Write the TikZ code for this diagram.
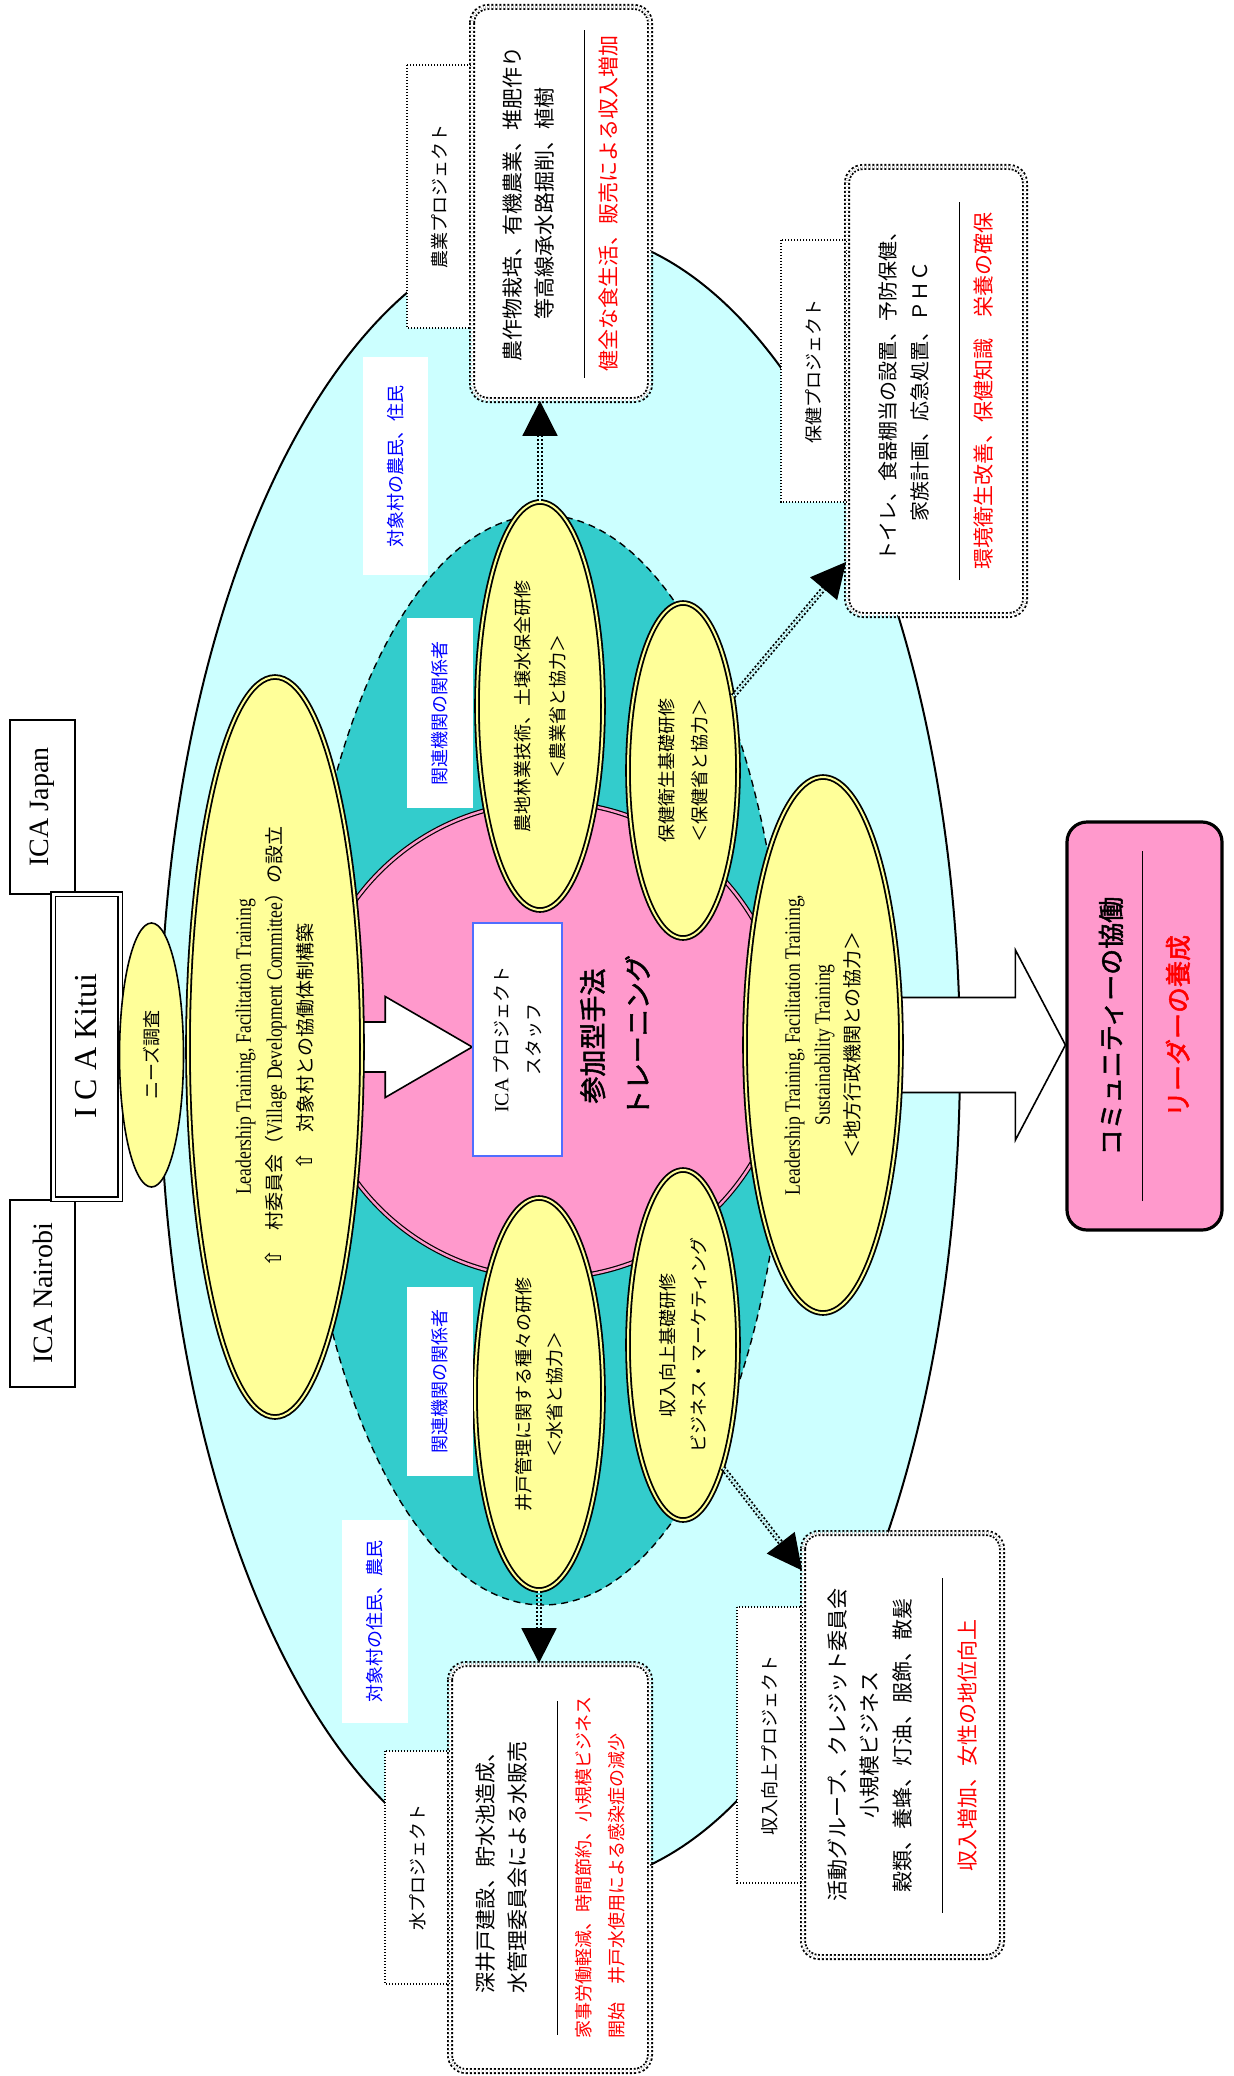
\documentclass[tikz,border=0pt]{standalone}
\usepackage{fontspec}
\setmainfont{Liberation Serif}
\newfontfamily\jp{Noto Sans CJK JP}
\newfontfamily\jpb[FakeBold=2]{Noto Sans CJK JP}
\newfontfamily\cond[FakeStretch=0.8]{Liberation Serif}
\newfontfamily\sym{DejaVu Sans}
\usetikzlibrary{shapes.geometric,arrows.meta,calc}

\definecolor{skyfill}{RGB}{204,255,255}
\definecolor{tealfill}{RGB}{51,204,204}
\definecolor{pinkfill}{RGB}{255,153,204}
\definecolor{yelfill}{RGB}{255,255,153}
\definecolor{staffblue}{RGB}{80,110,255}

\newcommand\latn[1]{{\cond\fontsize{11}{15}\selectfont #1}}
\newcommand\freccia{{\sym\fontsize{11}{15}\selectfont ⇧}}

\pgfdeclarelayer{back}
\pgfdeclarelayer{mid}
\pgfsetlayers{back,mid,main}

\begin{document}
\begin{tikzpicture}[x=0.5pt,y=-0.5pt,
    vtxt/.style={rotate=90, inner sep=0pt, align=center},
    yel/.style={ellipse, draw, line width=0.9pt, double=yelfill, double distance=1pt, fill=yelfill, inner sep=0pt},
    icabox/.style={draw, fill=white, line width=0.7pt},
    bluelab/.style={vtxt, fill=white, text=blue, font=\jp\fontsize{9}{9}\selectfont},
    tagbox/.style={vtxt, draw, fill=white, line width=0.6pt, dash pattern=on 0.6pt off 0.9pt, font=\jp\fontsize{9}{9}\selectfont},
    projbox/.style={vtxt, draw, fill=white, rounded corners=8pt, line width=0.9pt, double=white, double distance=1.2pt, dash pattern=on 1pt off 1pt, font=\jp\fontsize{10.5}{16}\selectfont},
    blockarrow/.style={draw, fill=white, line width=0.8pt, line join=miter},
    link/.style={double=skyfill, double distance=1pt, line width=0.9pt, dash pattern=on 1pt off 1pt, -{Triangle[length=17.5pt,width=17.5pt]}}]

    % Ellissi di sfondo
    \begin{pgfonlayer}{back}
    \fill[white] (0,0) rectangle (1233,2076);
    \node[ellipse, draw, line width=1pt, fill=skyfill, minimum width=400pt, minimum height=828pt, inner sep=0pt] (villagers) at (560,1058) {};
    \node[ellipse, draw, line width=0.7pt, dash pattern=on 3.5pt off 2.5pt, fill=tealfill, minimum width=243pt, minimum height=545pt, inner sep=0pt] (agencies) at (543,1060) {};
    \node[circle, draw, line width=0.6pt, double=pinkfill, double distance=1.2pt, fill=pinkfill, minimum size=238pt, inner sep=0pt] (core) at (548,1040) {};
    \end{pgfonlayer}
    \useasboundingbox (0,0) rectangle (1233,2076);

    % ICA
    \node[icabox, vtxt, minimum width=87pt, minimum height=32.5pt, font=\fontsize{14}{14}\selectfont] (japan) at (42.5,807) {ICA Japan};
    \node[icabox, vtxt, minimum width=93.5pt, minimum height=32.5pt, font=\fontsize{14}{14}\selectfont] (nairobi) at (42.5,1293.5) {ICA Nairobi};
    \node[icabox, vtxt, double, double distance=1.5pt, minimum width=152.5pt, minimum height=33.5pt, font=\fontsize{16}{16}\selectfont] (kitui) at (86.5,1046.5) {I C A Kitui};
    \node[ellipse, draw, line width=0.8pt, fill=yelfill, vtxt, minimum width=132pt, minimum height=32pt, font=\jp\fontsize{9}{9}\selectfont] (needs) at (151.5,1055) {ニーズ調査};

    % Centro
    \node[vtxt, draw=staffblue, line width=0.8pt, fill=white, minimum width=116.5pt, minimum height=44.5pt, font=\jp\fontsize{9}{16}\selectfont] (staff) at (517.5,1039.5) {{\rmfamily\fontsize{10}{16}\selectfont ICA} プロジェクト\\スタッフ};
    \node[vtxt, font=\jpb\fontsize{13.5}{22.5}\selectfont] (sanka) at (615,1036) {参加型手法\\トレーニング};

    % Ellissi gialle
    \node[yel, vtxt, minimum width=370pt, minimum height=87pt, font=\jp\fontsize{9.5}{15.5}\selectfont] (lft) at (275,1047) {\latn{Leadership Training, Facilitation Training}\\\freccia　村委員会（\latn{Village Development Committee}）の設立\\\freccia　対象村との協働体制構築};
    \node[yel, vtxt, minimum width=204pt, minimum height=63pt, font=\jp\fontsize{9}{17.5}\selectfont] (agritr) at (540,706) {農地林業技術、土壌水保全研修\\＜農業省と協力＞};
    \node[yel, vtxt, minimum width=167.5pt, minimum height=55pt, font=\jp\fontsize{9}{16.5}\selectfont] (healthtr) at (683,770.5) {保健衛生基礎研修\\＜保健省と協力＞};
    \node[yel, vtxt, minimum width=196pt, minimum height=64pt, font=\jp\fontsize{9}{15.5}\selectfont] (watertr) at (539,1394) {井戸管理に関する種々の研修\\＜水省と協力＞};
    \node[yel, vtxt, minimum width=175pt, minimum height=55pt, font=\jp\fontsize{9}{15.5}\selectfont] (incometr) at (683,1345) {収入向上基礎研修\\ビジネス・マーケティング};
    \node[yel, vtxt, minimum width=268pt, minimum height=78pt, font=\jp\fontsize{9.5}{15}\selectfont] (lead) at (823,1045) {\latn{Leadership Training, Facilitation Training,}\\\latn{Sustainability Training}\\＜地方行政機関との協力＞};

    % Etichette blu
    \node[bluelab, minimum width=109pt, minimum height=32.5pt] (farmers) at (395.5,466) {対象村の農民、住民};
    \node[bluelab, minimum width=95pt, minimum height=33pt] (agency1) at (440,713) {関連機関の関係者};
    \node[bluelab, minimum width=94.5pt, minimum height=33pt] (agency2) at (440,1381.5) {関連機関の関係者};
    \node[bluelab, minimum width=101.5pt, minimum height=33pt] (residents) at (375,1621.5) {対象村の住民、農民};

    % Progetti
    \node[tagbox, minimum width=131.5pt, minimum height=33pt] (agritag) at (440,196.5) {農業プロジェクト};
    \node[tagbox, minimum width=131pt, minimum height=33pt] (healthtag) at (814,371) {保健プロジェクト};
    \node[tagbox, minimum width=116.5pt, minimum height=32.5pt] (watertag) at (417.5,1867.5) {水プロジェクト};
    \node[tagbox, minimum width=138pt, minimum height=33pt] (incometag) at (770,1745) {収入向上プロジェクト};

    \node[projbox, minimum width=196.5pt, minimum height=89pt] (agribox) at (561,203.5) {農作物栽培、有機農業、堆肥作り\\等高線承水路掘削、植樹\\\rule{174pt}{0.5pt}\\{\color{red}健全な食生活、販売による収入増加}};
    \node[projbox, minimum width=224pt, minimum height=89pt] (healthbox) at (936,391) {{\fontsize{10}{16}\selectfont トイレ、食器棚当の設置、予防保健、}\\{\fontsize{10}{16}\selectfont 家族計画、応急処置、ＰＨＣ}\\\rule{189pt}{0.5pt}\\{\color{red}環境衛生改善、保健知識　栄養の確保}};
    \node[projbox, minimum width=203.5pt, minimum height=100pt, font=\jp\fontsize{10.5}{16.25}\selectfont] (waterbox) at (550,1867.5) {深井戸建設、貯水池造成、\\水管理委員会による水販売\\\rule{167pt}{0.5pt}\\{\color{red}\fontsize{9}{16.25}\selectfont 家事労働軽減、時間節約、小規模ビジネス}\\{\color{red}\fontsize{9}{16.25}\selectfont\makebox[171pt][l]{開始　井戸水使用による感染症の減少}}};
    \node[projbox, minimum width=212pt, minimum height=99.5pt, font=\jp\fontsize{10.5}{16.25}\selectfont] (incomebox) at (902.5,1745) {活動グループ、クレジット委員会\\小規模ビジネス\\穀類、養蜂、灯油、服飾、散髪\\\rule{167.5pt}{0.5pt}\\{\color{red}収入増加、女性の地位向上}};

    % Risultato
    \node[vtxt, draw, line width=1.6pt, fill=pinkfill, rounded corners=10pt, minimum width=204pt, minimum height=77.5pt, font=\jpb\fontsize{13}{11}\selectfont] (final) at (1144.5,1026) {コミュニティーの協働\\\rule{175pt}{0.5pt}\\[11.5pt]{\color{red}リーダーの養成}};

    % Frecce grandi
    \begin{pgfonlayer}{mid}
    \draw[blockarrow] (staff.north |- lft.center) -- ++(-87,-50.5) -- ++(0,25.5) -- ++(-50,0) -- ++(0,50) -- ++(50,0) -- ++(0,25.5) -- cycle;
    \draw[blockarrow] (final.north |- lead.center) -- ++(-50,-95) -- ++(0,47.5) -- ++(-140,0) -- ++(0,95) -- ++(140,0) -- ++(0,47.5) -- cycle;
    \end{pgfonlayer}

    % Collegamenti
    \draw[link] (agritr.east) -- (agritr.east |- agribox.west);
    \draw[link] (watertr.west) -- (watertr.west |- waterbox.east);
    \draw[link] (healthtr.-34) -- ($(healthbox.north west)!0.12!(healthbox.north east)$);
    \draw[link] (incometr.-162) -- ($(incomebox.north east)!0.09!(incomebox.north west)$);
\end{tikzpicture}
\end{document}
